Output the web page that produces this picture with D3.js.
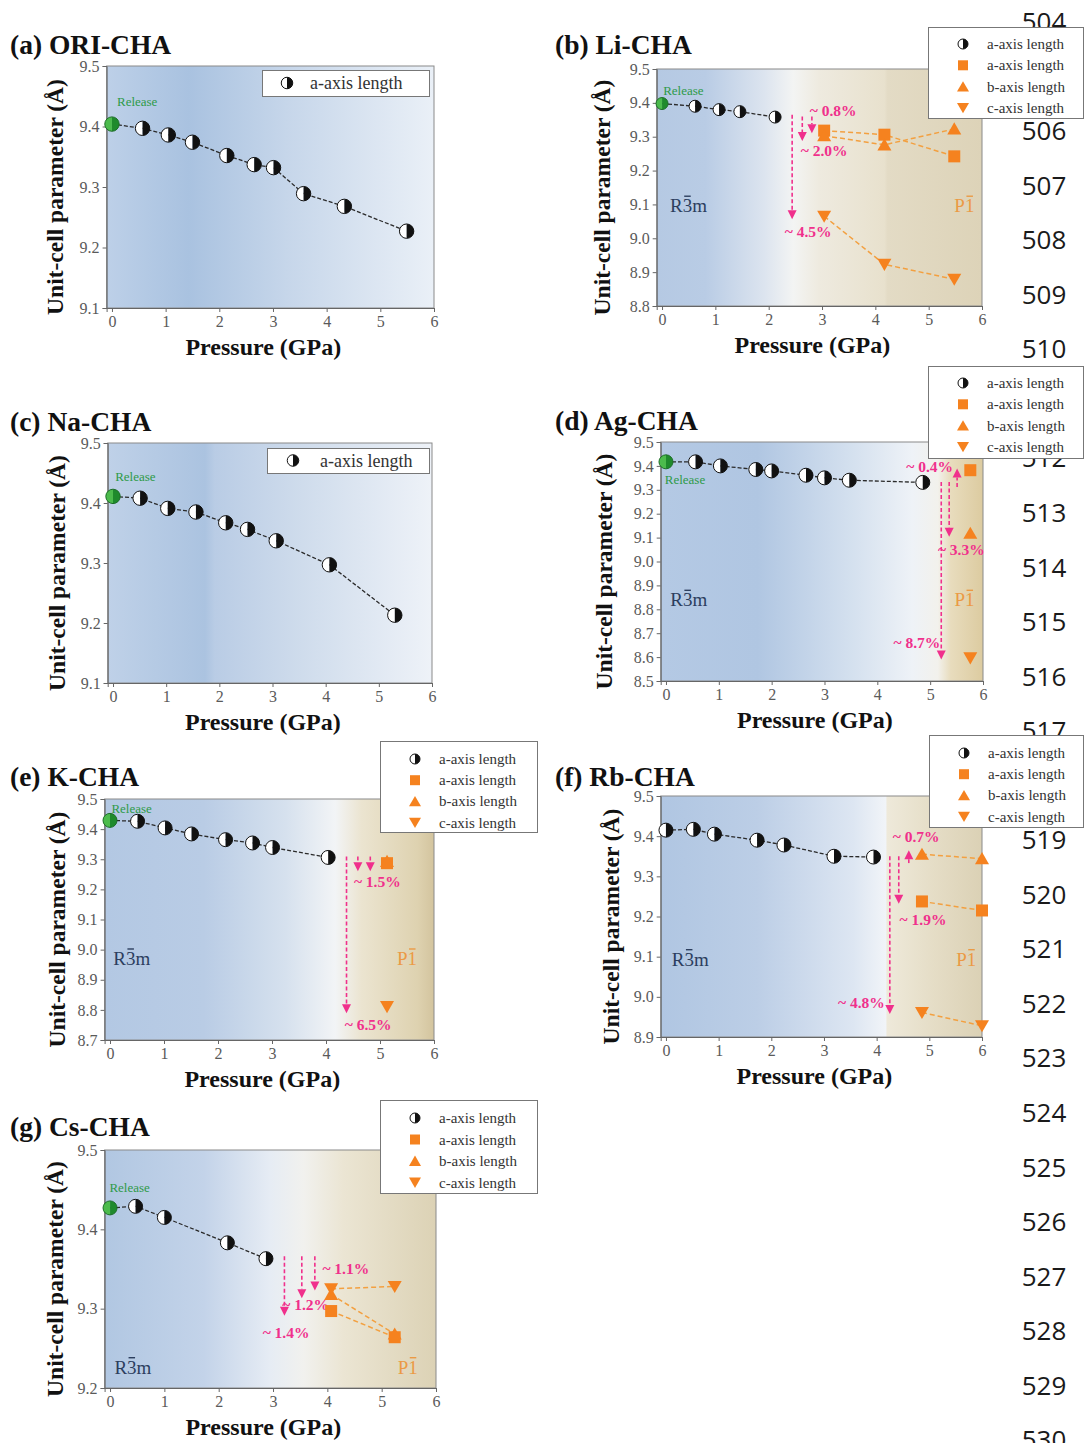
<!DOCTYPE html>
<html><head><meta charset="utf-8">
<script src="https://cdn.jsdelivr.net/npm/d3@7"></script>
<style>body{margin:0;background:#fff}svg{display:block}</style>
</head><body>
<svg id="chart" width="1084" height="1443"></svg>
<script>
// ---------------- DATA ----------------
const xTickValues = [0, 1, 2, 3, 4, 5, 6];
const ticksA = [9.1, 9.2, 9.3, 9.4, 9.5];
const ticksB = [8.8, 8.9, 9.0, 9.1, 9.2, 9.3, 9.4, 9.5];
const ticksC = [9.1, 9.2, 9.3, 9.4, 9.5];
const ticksD = [8.5, 8.6, 8.7, 8.8, 8.9, 9.0, 9.1, 9.2, 9.3, 9.4, 9.5];
const ticksE = [8.7, 8.8, 8.9, 9.0, 9.1, 9.2, 9.3, 9.4, 9.5];
const ticksF = [8.9, 9.0, 9.1, 9.2, 9.3, 9.4, 9.5];
const ticksG = [9.2, 9.3, 9.4, 9.5];

// (a) ORI-CHA
const oriP = [0, 0.57, 1.05, 1.5, 2.14, 2.65, 3.01, 3.57, 4.33, 5.49];
const oriA = [9.404, 9.397, 9.386, 9.374, 9.352, 9.337, 9.332, 9.289, 9.268, 9.227];
// (b) Li-CHA
const liP = [0, 0.62, 1.07, 1.46, 2.12];
const liA = [9.398, 9.390, 9.380, 9.374, 9.358];
const liTP = [3.04, 4.17, 5.48];
const liTa = [9.318, 9.306, 9.242];
const liTb = [9.303, 9.276, 9.323];
const liTc = [9.065, 8.923, 8.879];
// (c) Na-CHA
const naP = [0, 0.51, 1.03, 1.56, 2.12, 2.53, 3.07, 4.07, 5.30];
const naA = [9.411, 9.408, 9.391, 9.385, 9.367, 9.356, 9.337, 9.297, 9.213];
// (d) Ag-CHA
const agP = [0, 0.56, 1.03, 1.70, 2.0, 2.65, 3.0, 3.47, 4.86];
const agA = [9.417, 9.417, 9.400, 9.385, 9.379, 9.361, 9.350, 9.340, 9.331];
const agTP = [5.76];
const agTa = [9.382];
const agTb = [9.118];
const agTc = [8.597];
// (e) K-CHA
const kP = [0, 0.51, 1.02, 1.51, 2.14, 2.64, 3.01, 4.04];
const kA = [9.429, 9.426, 9.404, 9.384, 9.365, 9.354, 9.339, 9.306];
const kTP = [5.13];
const kTa = [9.287];
const kTb = [9.293];
const kTc = [8.811];
// (f) Rb-CHA
const rbP = [0, 0.52, 0.92, 1.73, 2.24, 3.19, 3.94];
const rbA = [9.415, 9.417, 9.405, 9.390, 9.378, 9.350, 9.348];
const rbTP = [4.86, 6.0];
const rbTa = [9.2375, 9.215];
const rbTb = [9.355, 9.344];
const rbTc = [8.961, 8.928];
// (g) Cs-CHA
const csP = [0, 0.47, 1.0, 2.16, 2.87];
const csA = [9.427, 9.429, 9.415, 9.383, 9.363];
const csTP = [4.07, 5.24];
const csTa = [9.297, 9.264];
const csTb = [9.318, 9.268];
const csTc = [9.325, 9.328];

// arrows: pressure, start value, end value ; labels: text, pressure, value
const liArrP = [2.44, 2.63, 2.81], liArrFrom = [9.365, 9.36, 9.36], liArrTo = [9.056, 9.287, 9.31];
const liLab = ["~ 4.5%", "~ 2.0%", "~ 0.8%"], liLabP = [2.74, 3.04, 3.21], liLabV = [9.021, 9.26, 9.378];
const agArrP = [5.51, 5.36, 5.21], agArrFrom = [9.312, 9.333, 9.333], agArrTo = [9.389, 9.104, 8.59];
const agLab = ["~ 0.4%", "~ 3.3%", "~ 8.7%"], agLabP = [4.99, 5.59, 4.75], agLabV = [9.396, 9.049, 8.66];
const kArrP = [4.38, 4.59, 4.82], kArrFrom = [9.309, 9.309, 9.309], kArrTo = [8.789, 9.26, 9.26];
const kLab = ["~ 6.5%", "~ 1.5%"], kLabP = [4.78, 4.95], kLabV = [8.75, 9.226];
const rbArrP = [4.61, 4.42, 4.25], rbArrFrom = [9.333, 9.35, 9.35], rbArrTo = [9.365, 9.232, 8.957];
const rbLab = ["~ 0.7%", "~ 1.9%", "~ 4.8%"], rbLabP = [4.75, 4.88, 3.71], rbLabV = [9.398, 9.192, 8.986];
const csArrP = [3.21, 3.53, 3.77], csArrFrom = [9.366, 9.366, 9.366], csArrTo = [9.291, 9.313, 9.323];
const csLab = ["~ 1.4%", "~ 1.2%", "~ 1.1%"], csLabP = [3.24, 3.60, 4.34], csLabV = [9.27, 9.305, 9.351];

// manuscript line numbers visible in the margin (505, 511, 518 are hidden by legends)
const lineNumbers = [504,506,507,508,509,510,512,513,514,515,516,517,519,520,521,522,523,524,525,526,527,528,529,530];
const legendLabels = ["a-axis length", "a-axis length", "b-axis length", "c-axis length"];

// ---------------- LAYOUT / STYLE ----------------
const serif = "'Liberation Serif','Times New Roman',serif";
const ORANGE = "#f5821f", ORANGE_LINE = "#f3a040", PINK = "#f0308c";
const blueBg = [[0,"#bdd0e8"],[0.25,"#a9c2e0"],[0.55,"#c6d6ea"],[1,"#eaf0f7"]];

const panels = [
  {id:"a", title:"(a) ORI-CHA", tx:10, ty:54, left:106.6, right:434, top:66, bottom:308, ylabX:55, yTicks:ticksA, yDom:[9.1,9.5],
   rP:oriP, rA:oriA, release:[0.47,9.442], r:7.2, bg:blueBg},
  {id:"b", title:"(b) Li-CHA", tx:555, ty:54, left:656.7, right:982, top:69, bottom:306, ylabX:602, yTicks:ticksB, yDom:[8.8,9.5],
   rP:liP, rA:liA, release:[0.4,9.436], r:6,
   tP:liTP, ta:liTa, tb:liTb, tc:liTc, tLines:true,
   arrP:liArrP, arrF:liArrFrom, arrT:liArrTo, lab:liLab, labP:liLabP, labV:liLabV,
   rLab:[0.15,9.077], pLab:[5.67,9.077],
   bg:[[0,"#b5c9e3"],[0.15,"#b9cce5"],[0.33,"#dce4ef"],[0.42,"#f3f4f3"],[0.5,"#eeeadf"],[0.7,"#e8e1cd"],[0.71,"#e3dbc5"],[1,"#ddd3b8"]]},
  {id:"c", title:"(c) Na-CHA", tx:10, ty:431, left:107.7, right:432, top:443, bottom:683, ylabX:57, yTicks:ticksC, yDom:[9.1,9.5],
   rP:naP, rA:naA, release:[0.42,9.445], r:7.2,
   bg:[[0,"#bfd1e8"],[0.3,"#abc3e0"],[0.33,"#b9cce5"],[0.6,"#cfdcec"],[1,"#eef2f8"]]},
  {id:"d", title:"(d) Ag-CHA", tx:555, ty:430, left:660.7, right:983, top:442, bottom:681, ylabX:604, yTicks:ticksD, yDom:[8.5,9.5],
   rP:agP, rA:agA, release:[0.36,9.345], r:7,
   tP:agTP, ta:agTa, tb:agTb, tc:agTc, tLines:false,
   arrP:agArrP, arrF:agArrFrom, arrT:agArrTo, lab:agLab, labP:agLabP, labV:agLabV,
   rLab:[0.08,8.8125], pLab:[5.65,8.8125],
   bg:[[0,"#b4c9e4"],[0.3,"#b0c6e2"],[0.6,"#d5e1ef"],[0.78,"#eef2f7"],[0.86,"#f2f1ec"],[0.9,"#e8dcbd"],[1,"#dccba0"]]},
  {id:"e", title:"(e) K-CHA", tx:10, ty:786, left:104.6, right:434, top:799, bottom:1040, ylabX:57, yTicks:ticksE, yDom:[8.7,9.5],
   rP:kP, rA:kA, release:[0.4,9.467], r:7,
   tP:kTP, ta:kTa, tb:kTb, tc:kTc, tLines:false,
   arrP:kArrP, arrF:kArrFrom, arrT:kArrTo, lab:kLab, labP:kLabP, labV:kLabV,
   rLab:[0.06,8.949], pLab:[5.5,8.949],
   bg:[[0,"#b3c8e3"],[0.3,"#b9cce5"],[0.55,"#d6e1ee"],[0.7,"#f2f4f6"],[0.78,"#ebe4d0"],[0.95,"#ded2b0"],[1,"#d3c49e"]]},
  {id:"f", title:"(f) Rb-CHA", tx:555, ty:786, left:660.7, right:982, top:796, bottom:1037, ylabX:611, yTicks:ticksF, yDom:[8.9,9.5],
   rP:rbP, rA:rbA, release:null, r:7,
   tP:rbTP, ta:rbTa, tb:rbTb, tc:rbTc, tLines:true,
   arrP:rbArrP, arrF:rbArrFrom, arrT:rbArrTo, lab:rbLab, labP:rbLabP, labV:rbLabV,
   rLab:[0.11,9.0775], pLab:[5.70,9.0775],
   bg:[[0,"#b0c6e2"],[0.3,"#bccee6"],[0.6,"#dde6f2"],[0.7,"#f1f4f8"],[0.705,"#eee9da"],[0.85,"#e5ddc6"],[1,"#dbd1b5"]]},
  {id:"g", title:"(g) Cs-CHA", tx:10, ty:1136, left:104.6, right:436, top:1150, bottom:1388, ylabX:55, yTicks:ticksG, yDom:[9.2,9.5],
   rP:csP, rA:csA, release:[0.36,9.453], r:7,
   tP:csTP, ta:csTa, tb:csTb, tc:csTc, tLines:true,
   arrP:csArrP, arrF:csArrFrom, arrT:csArrTo, lab:csLab, labP:csLabP, labV:csLabV,
   rLab:[0.08,9.218], pLab:[5.48,9.218],
   bg:[[0,"#b1c7e2"],[0.3,"#c3d3e9"],[0.5,"#e6ecf4"],[0.6,"#f1f1ee"],[0.72,"#ebe5d3"],[1,"#dcd2b5"]]}
];

const legends = [
  {x:262, y:70, w:167, h:26, n:1, font:18, mx:25, tx:48, row0:13, step:0, ms:1.15},
  {x:928, y:27, w:155, h:91, n:4, font:15, mx:35, tx:59, row0:17, step:21.3, ms:1},
  {x:267, y:448, w:162, h:25, n:1, font:18, mx:26, tx:53, row0:12.5, step:0, ms:1.15},
  {x:928, y:366, w:155, h:92, n:4, font:15, mx:35, tx:59, row0:17, step:21.3, ms:1},
  {x:380, y:741, w:157, h:91, n:4, font:15, mx:35, tx:59, row0:18, step:21.2, ms:1},
  {x:929, y:735, w:154, h:92, n:4, font:15, mx:35, tx:59, row0:18, step:21.2, ms:1},
  {x:380, y:1100, w:157, h:93, n:4, font:15, mx:35, tx:59, row0:18, step:21.5, ms:1}
];

// ---------------- DRAW ----------------
const svg = d3.select("#chart");
const defs = svg.append("defs");

// manuscript line numbers (under legends)
svg.append("g").selectAll("text").data(lineNumbers).join("text")
  .attr("x", 1044).attr("y", d => 21 + (d - 504) * 54.55)
  .attr("text-anchor", "middle").attr("dominant-baseline", "central")
  .style("font-family", "'Open Sans','Noto Sans',sans-serif").style("font-size", "26px")
  .attr("fill", "#1a1a1a").text(d => d);

function halfMarker(sel, r, leftFill, rightFill, stroke) {
  sel.append("path").attr("d", `M0,${-r}A${r},${r} 0 0 0 0,${r}Z`).attr("fill", leftFill);
  sel.append("path").attr("d", `M0,${-r}A${r},${r} 0 0 1 0,${r}Z`).attr("fill", rightFill);
  sel.append("circle").attr("r", r).attr("fill", "none").attr("stroke", stroke).attr("stroke-width", 1);
}
const symSquare = s => d3.symbol(d3.symbolSquare, s * s)();
const symTri = s => d3.symbol(d3.symbolTriangle, s * s * 0.433)();

function phaseLabel(g, x0, y0, text, barIdx, color, anchor) {
  const t = g.append("text").attr("x", x0).attr("y", y0).attr("text-anchor", anchor)
    .style("font-family", serif).style("font-size", "19px").attr("fill", color).text(text);
  const ext = t.node().getExtentOfChar(barIdx);
  g.append("line").attr("x1", ext.x + 1.5).attr("x2", ext.x + ext.width - 1.5)
    .attr("y1", y0 - 16).attr("y2", y0 - 16).attr("stroke", color).attr("stroke-width", 1.4);
}

panels.forEach(cfg => {
  const g = svg.append("g").attr("id", "panel-" + cfg.id);
  const x = d3.scaleLinear().domain([-0.1, 6]).range([cfg.left, cfg.right]);
  const y = d3.scaleLinear().domain(cfg.yDom).range([cfg.bottom, cfg.top]);
  const W = cfg.right - cfg.left, H = cfg.bottom - cfg.top;

  const gid = "bg-" + cfg.id;
  const lg = defs.append("linearGradient").attr("id", gid).attr("x1", 0).attr("x2", 1).attr("y1", 0).attr("y2", 0);
  cfg.bg.forEach(s => lg.append("stop").attr("offset", s[0]).attr("stop-color", s[1]));
  g.append("rect").attr("x", cfg.left).attr("y", cfg.top).attr("width", W).attr("height", H).attr("fill", `url(#${gid})`);
  g.append("rect").attr("x", cfg.left).attr("y", cfg.top).attr("width", W).attr("height", H)
    .attr("fill", "none").attr("stroke", "#8a8a8a").attr("stroke-width", 1);

  // axes
  const xa = g.append("g").attr("transform", `translate(0,${cfg.bottom})`)
    .call(d3.axisBottom(x).tickValues(xTickValues).tickSize(4).tickPadding(4).tickFormat(d3.format("d")));
  const ya = g.append("g").attr("transform", `translate(${cfg.left},0)`)
    .call(d3.axisLeft(y).tickValues(cfg.yTicks).tickSize(4).tickPadding(3).tickFormat(d3.format(".1f")));
  [xa, ya].forEach(a => {
    a.select(".domain").attr("stroke", "#666");
    a.selectAll(".tick line").attr("stroke", "#666");
    a.selectAll(".tick text").attr("fill", "#5a5a5a").style("font-family", serif).style("font-size", "16px");
  });

  // titles & axis labels
  g.append("text").attr("x", cfg.tx).attr("y", cfg.ty).style("font-family", serif)
    .style("font-size", "27.5px").style("font-weight", "bold").attr("fill", "#111").text(cfg.title);
  g.append("text").attr("transform", `translate(${cfg.ylabX},${(cfg.top + cfg.bottom) / 2 + 10}) rotate(-90)`)
    .attr("text-anchor", "middle").attr("dominant-baseline", "central")
    .style("font-family", serif).style("font-size", "23.5px").style("font-weight", "bold").attr("fill", "#111")
    .text("Unit-cell parameter (Å)");
  g.append("text").attr("x", (cfg.left + cfg.right) / 2 - 7).attr("y", cfg.bottom + 47)
    .attr("text-anchor", "middle")
    .style("font-family", serif).style("font-size", "24px").style("font-weight", "bold").attr("fill", "#111")
    .text("Pressure (GPa)");

  // phase labels
  if (cfg.rLab) {
    phaseLabel(g, x(cfg.rLab[0]), y(cfg.rLab[1]), "R3m", 1, "#2c3e5e", "start");
    phaseLabel(g, x(cfg.pLab[0]), y(cfg.pLab[1]), "P1", 1, "#eb9a45", "middle");
  }

  // pink arrows
  if (cfg.arrP) {
    cfg.arrP.forEach((p, i) => {
      const x0 = x(p), y0 = y(cfg.arrF[i]), y1 = y(cfg.arrT[i]);
      const dir = y1 > y0 ? 1 : -1, head = 9, hw = 4.5;
      g.append("line").attr("x1", x0).attr("x2", x0).attr("y1", y0).attr("y2", y1 - dir * head)
        .attr("stroke", PINK).attr("stroke-width", 1.6).attr("stroke-dasharray", "4,2.5");
      g.append("path").attr("d", `M${x0 - hw},${y1 - dir * head}L${x0 + hw},${y1 - dir * head}L${x0},${y1}Z`).attr("fill", PINK);
    });
    g.selectAll("text.pct").data(cfg.lab).join("text").attr("class", "pct")
      .attr("x", (d, i) => x(cfg.labP[i])).attr("y", (d, i) => y(cfg.labV[i]))
      .attr("text-anchor", "middle").attr("dominant-baseline", "central")
      .style("font-family", serif).style("font-size", "15.5px").style("font-weight", "bold").attr("fill", PINK)
      .text(d => d);
  }

  // release label
  if (cfg.release) {
    g.append("text").attr("x", x(cfg.release[0])).attr("y", y(cfg.release[1]))
      .attr("text-anchor", "middle").attr("dominant-baseline", "central")
      .style("font-family", serif).style("font-size", "13px").attr("fill", "#2e9a48").text("Release");
  }

  // R-3m series
  const pts = cfg.rP.map((p, i) => ({p, v: cfg.rA[i], i}));
  g.append("path").datum(pts).attr("fill", "none").attr("stroke", "#2a2a2a").attr("stroke-width", 1.3)
    .attr("stroke-dasharray", "4,2").attr("d", d3.line().x(d => x(d.p)).y(d => y(d.v)));
  g.selectAll("g.rpt").data(pts).join("g").attr("class", "rpt")
    .attr("transform", d => `translate(${x(d.p)},${y(d.v)})`)
    .each(function (d) {
      const s = d3.select(this);
      if (d.i === 0 && cfg.release) halfMarker(s, cfg.r, "#4cbb4c", "#1f8a2c", "#1d6e28");
      else halfMarker(s, cfg.r, "#ffffff", "#111111", "#111111");
    });

  // P-1 series
  if (cfg.tP) {
    const series = [
      {vals: cfg.ta, sym: symSquare(12), dy: 0, rot: 0},
      {vals: cfg.tb, sym: symTri(14), dy: 1.5, rot: 0},
      {vals: cfg.tc, sym: symTri(14), dy: -1.5, rot: 180}
    ];
    series.forEach(s => {
      const sp = cfg.tP.map((p, i) => ({p, v: s.vals[i]}));
      if (cfg.tLines && sp.length > 1) {
        g.append("path").datum(sp).attr("fill", "none").attr("stroke", ORANGE_LINE).attr("stroke-width", 1.5)
          .attr("stroke-dasharray", "5,3").attr("d", d3.line().x(d => x(d.p)).y(d => y(d.v)));
      }
    });
    series.forEach(s => {
      const sp = cfg.tP.map((p, i) => ({p, v: s.vals[i]}));
      g.selectAll(null).data(sp).join("path").attr("d", s.sym).attr("fill", ORANGE)
        .attr("transform", d => `translate(${x(d.p)},${y(d.v) + s.dy}) rotate(${s.rot})`);
    });
  }
});

// legends on top
legends.forEach(L => {
  const g = svg.append("g").attr("transform", `translate(${L.x},${L.y})`);
  g.append("rect").attr("x", 0.5).attr("y", 0.5).attr("width", L.w).attr("height", L.h)
    .attr("fill", "#fff").attr("stroke", "#777").attr("stroke-width", 1);
  const labels = legendLabels.slice(0, L.n);
  labels.forEach((lab, i) => {
    const cy = L.row0 + i * L.step;
    const m = g.append("g").attr("transform", `translate(${L.mx},${cy})`);
    if (i === 0) halfMarker(m, 5 * L.ms, "#fff", "#111", "#111");
    else if (i === 1) m.append("path").attr("d", symSquare(10)).attr("fill", ORANGE);
    else if (i === 2) m.append("path").attr("d", symTri(12)).attr("transform", "translate(0,1.5)").attr("fill", ORANGE);
    else m.append("path").attr("d", symTri(12)).attr("transform", "translate(0,-1.5) rotate(180)").attr("fill", ORANGE);
    g.append("text").attr("x", L.tx).attr("y", cy).attr("dominant-baseline", "central")
      .style("font-family", serif).style("font-size", L.font + "px").attr("fill", "#333").text(lab);
  });
});
</script>
</body></html>
